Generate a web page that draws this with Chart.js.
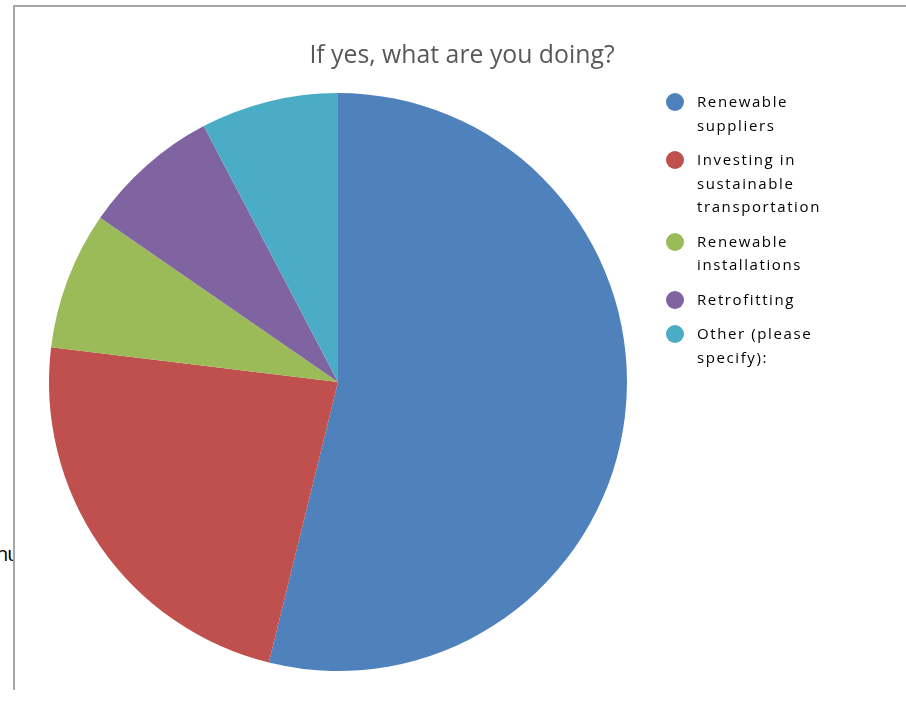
<!DOCTYPE html>
<html>
<head>
<meta charset="utf-8">
<script src="https://cdn.jsdelivr.net/npm/chart.js@4/dist/chart.umd.min.js"></script>
<style>
  body { margin: 0; background: #fff; width: 906px; height: 702px; overflow: hidden; position: relative; font-family: "Open Sans", sans-serif; }
  #frame { position: absolute; left: 13px; top: 5px; width: 900px; height: 683px; border-left: 2px solid #a6a6a6; border-top: 2px solid #a6a6a6; }
  #stray { position: absolute; left: 0; top: 540px; width: 13px; overflow: hidden; font-size: 20px; color: #000; white-space: nowrap; }
  #stray span { display: inline-block; margin-left: -4px; letter-spacing: -1px; }
  #title { position: absolute; left: 0; width: 924px; top: 36px; text-align: center; font-size: 24.8px; color: #595959; }
  #wrap { position: absolute; left: 0; top: 0; width: 906px; height: 702px; }
  #legend { position: absolute; left: 666px; top: 90px; list-style: none; margin: 0; padding: 0; }
  #legend li { position: relative; padding-left: 31px; font-size: 15px; line-height: 23.5px; letter-spacing: 1.6px; color: #000; margin-bottom: 11px; }
  #legend li span.dot { position: absolute; left: 0; top: 3px; width: 18px; height: 18px; border-radius: 50%; }
</style>
</head>
<body>
<div id="frame"></div>
<div id="stray"><span>hu</span></div>
<div id="wrap"><canvas id="pieChart" width="906" height="702"></canvas></div>
<div id="title">If yes, what are you doing?</div>
<ul id="legend"></ul>
<script>
// Data
const labels = [
  ["Renewable", "suppliers"],
  ["Investing in", "sustainable", "transportation"],
  ["Renewable", "installations"],
  ["Retrofitting"],
  ["Other (please", "specify):"]
];
const counts = [7, 3, 1, 1, 1];
const colors = ["#4f81bd", "#c0504d", "#9bbb59", "#8064a2", "#4bacc6"];

// Legend (HTML)
const legendEl = document.getElementById("legend");
labels.forEach((lines, i) => {
  const li = document.createElement("li");
  li.innerHTML = `<span class="dot" style="background:${colors[i]}"></span>${lines.join("<br>")}`;
  legendEl.appendChild(li);
});

// Pie
new Chart(document.getElementById("pieChart"), {
  type: "pie",
  data: {
    labels: labels.map(l => l.join(" ")),
    datasets: [{
      data: counts,
      backgroundColor: colors,
      borderWidth: 0
    }]
  },
  options: {
    responsive: false,
    animation: false,
    layout: { padding: { left: 49, right: 279, top: 93, bottom: 31 } },
    plugins: {
      legend: { display: false },
      tooltip: { enabled: false },
      title: { display: false }
    }
  }
});
</script>
</body>
</html>
